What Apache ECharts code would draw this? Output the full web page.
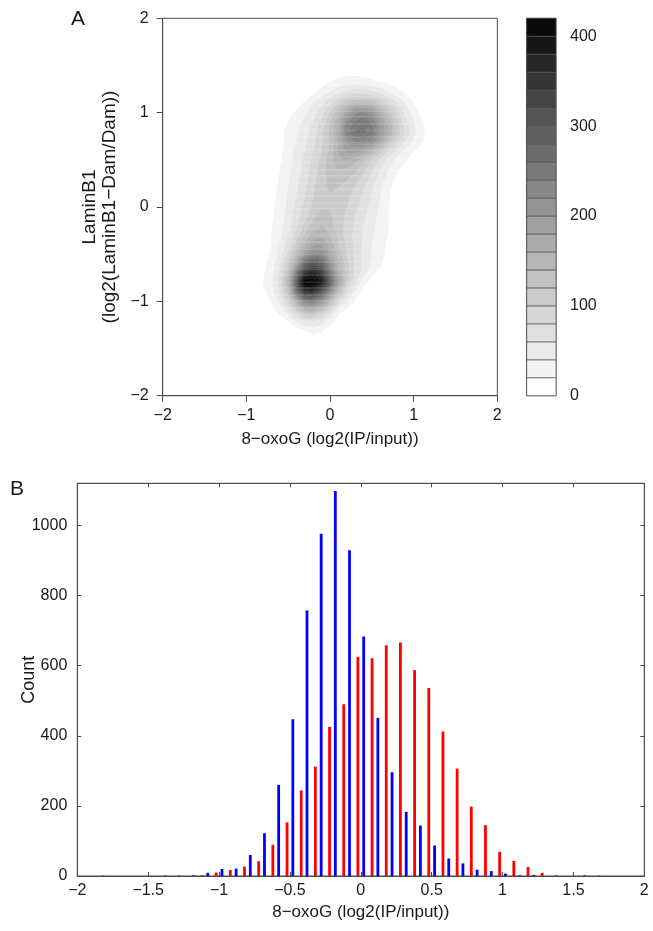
<!DOCTYPE html>
<html><head><meta charset="utf-8">
<script src="https://cdn.jsdelivr.net/npm/echarts@6/dist/echarts.min.js"></script>
<style>html,body{margin:0;padding:0;background:#fff}#c{width:653px;height:931px}</style>
</head><body><div id="c"></div>
<script>
const FONT = '"Liberation Sans", Arial, Helvetica, sans-serif';
const MINUS = '\u2212';

// ---------- Panel A: 2D density grid (estimated from the contour picture) ----------
const gridX = [-0.8,-0.7,-0.6,-0.5,-0.4,-0.3,-0.2,-0.1,0.0,0.1,0.2,0.3,0.4,0.5,0.6,0.7,0.8,0.9,1.0,1.1,1.2];
const gridY = [1.4,1.3,1.2,1.1,1.0,0.9,0.8,0.7,0.6,0.5,0.4,0.3,0.2,0.1,0.0,-0.1,-0.2,-0.3,-0.4,-0.5,-0.6,-0.7,-0.8,-0.9,-1.0,-1.1,-1.2,-1.3,-1.4];
const density = [
 [0,0,0,0,0,0,0,0,8,14,17,17,15,10,0,0,0,0,0,0,0],
 [0,0,0,0,0,0,0,15,24,32,38,40,38,33,26,20,10,0,0,0,0],
 [0,0,0,0,0,0,20,32,45,60,72,80,80,72,60,45,32,20,8,0,0],
 [0,0,0,0,10,25,40,55,75,100,125,140,145,135,110,85,60,40,18,5,0],
 [0,0,0,12,25,38,52,72,100,135,175,215,225,205,165,125,88,55,30,12,0],
 [0,0,5,22,32,45,62,85,115,160,215,245,252,235,195,150,105,70,42,22,5],
 [0,0,12,28,38,50,70,95,125,175,235,262,268,250,210,165,115,80,45,25,8],
 [0,0,12,28,40,55,75,95,120,160,200,225,230,215,180,130,90,60,38,22,8],
 [0,0,15,30,45,60,80,100,125,165,185,190,180,150,115,80,55,35,20,8,0],
 [0,5,18,32,48,65,85,105,130,155,160,150,130,100,75,52,35,22,10,0,0],
 [0,8,20,35,50,68,88,110,130,140,138,125,105,82,60,40,22,10,0,0,0],
 [0,10,22,38,55,72,92,112,125,128,122,110,92,72,52,32,15,5,0,0,0],
 [0,12,24,40,58,78,98,115,122,120,112,98,80,62,45,24,8,0,0,0,0],
 [0,14,26,42,60,80,100,115,118,115,105,92,75,58,40,22,8,0,0,0,0],
 [0,16,28,45,65,85,105,118,118,112,100,85,70,52,36,20,6,0,0,0,0],
 [0,17,30,48,70,92,115,128,122,110,95,80,64,48,34,20,6,0,0,0,0],
 [2,18,32,52,78,105,130,140,128,110,92,76,60,45,32,20,5,0,0,0,0],
 [5,20,36,60,90,122,150,155,138,115,92,74,58,42,30,18,0,0,0,0,0],
 [8,21,40,70,108,145,178,178,150,120,94,74,56,40,28,15,0,0,0,0,0],
 [12,24,48,85,135,190,225,215,172,130,98,75,55,38,26,12,0,0,0,0,0],
 [15,28,55,105,175,270,310,280,210,150,105,76,54,36,22,10,0,0,0,0,0],
 [18,32,65,130,250,345,380,340,250,170,112,76,52,25,12,0,0,0,0,0,0],
 [20,35,72,150,300,420,425,380,290,190,110,60,27,8,0,0,0,0,0,0,0],
 [15,32,62,125,260,340,350,300,210,135,72,34,12,0,0,0,0,0,0,0,0],
 [5,22,45,90,160,230,245,200,140,80,40,15,0,0,0,0,0,0,0,0,0],
 [0,10,28,55,100,140,150,120,80,28,10,0,0,0,0,0,0,0,0,0,0],
 [0,0,8,22,45,65,70,55,30,10,0,0,0,0,0,0,0,0,0,0,0],
 [0,0,0,0,12,22,28,22,8,0,0,0,0,0,0,0,0,0,0,0,0],
 [0,0,0,0,0,5,12,10,0,0,0,0,0,0,0,0,0,0,0,0,0]
];
const levelLows = [0,20,40,60,80,100,120,140,160,180,200,220,240,260,280,300,320,340,360,380,400];
const levelStep = 20;
const levelColors = ['#ffffff','#f3f3f3','#eaeaea','#e0e0e0','#d6d6d6','#cbcbcb','#c1c1c1','#b6b6b6','#ababab','#a0a0a0','#949494','#878787','#7a7a7a','#6c6c6c','#606060','#555555','#444444','#353535','#262626','#161616','#0a0a0a'];
const aTicks = [-2,-1,0,1,2];
const cbTicks = [0,100,200,300,400];

// ---------- Panel B: histogram ----------
const bins = [-1.8,-1.7,-1.6,-1.5,-1.4,-1.3,-1.2,-1.1,-1.0,-0.9,-0.8,-0.7,-0.6,-0.5,-0.4,-0.3,-0.2,-0.1,0,0.1,0.2,0.3,0.4,0.5,0.6,0.7,0.8,0.9,1.0,1.1,1.2,1.3,1.4,1.5,1.6,1.7];
const countsRed  = [1,0,0,0,0,0,0,2,10,17,27,42,89,153,244,312,425,490,625,621,658,666,587,536,412,306,198,145,69,43,26,9,2,0,3,1];
const countsBlue = [0,0,0,0,1,1,2,9,20,21,60,122,260,447,757,976,1098,929,683,451,296,183,144,87,50,36,18,14,7,2,3,0,0,0,0,0];
const bTicksY = [0,200,400,600,800,1000];

const fmt = v => String(v).replace('-', MINUS);
const SUB = 8; // sub-steps per grid square when rendering filled contours

// grid squares between neighbouring nodes (contourf-style rendering)
const squares = [];
for (let i = 0; i < gridY.length - 1; i++) {
  for (let j = 0; j < gridX.length - 1; j++) {
    const a = density[i][j], b = density[i][j + 1], c = density[i + 1][j], d = density[i + 1][j + 1];
    if (Math.max(a, b, c, d) >= levelStep) squares.push([gridX[j], gridY[i], gridX[j + 1], gridY[i + 1], a, b, c, d]);
  }
}

const axisCol = '#4a4a4a';
const txtCol = '#1a1a1a';

function renderSquare(params, api) {
  const x0 = api.value(0), y0 = api.value(1), x1 = api.value(2), y1 = api.value(3);
  const a = api.value(4), b = api.value(5), c = api.value(6), d = api.value(7);
  const children = [];
  for (let t = 0; t < SUB; t++) {
    let runStart = 0, runBand = -1;
    const w = (t + 0.5) / SUB;
    const flush = (sEnd) => {
      if (runBand >= 1) {
        const p0 = api.coord([x0 + (x1 - x0) * runStart / SUB, y0 + (y1 - y0) * t / SUB]);
        const p1 = api.coord([x0 + (x1 - x0) * sEnd / SUB, y0 + (y1 - y0) * (t + 1) / SUB]);
        children.push({type: 'rect', shape: {x: Math.min(p0[0], p1[0]), y: Math.min(p0[1], p1[1]),
          width: Math.abs(p1[0] - p0[0]) + 0.35, height: Math.abs(p1[1] - p0[1]) + 0.35},
          style: {fill: levelColors[runBand]}});
      }
    };
    for (let s = 0; s < SUB; s++) {
      const u = (s + 0.5) / SUB;
      const v = a * (1 - u) * (1 - w) + b * u * (1 - w) + c * (1 - u) * w + d * u * w;
      const band = Math.min(levelColors.length - 1, Math.floor(v / levelStep));
      if (band !== runBand) { flush(s); runStart = s; runBand = band; }
    }
    flush(SUB);
  }
  return {type: 'group', children: children};
}

const gridCommon = {show: true, borderColor: axisCol, borderWidth: 1, backgroundColor: 'transparent', containLabel: false, outerBoundsMode: 'none'};

const chart = echarts.init(document.getElementById('c'), null, {renderer: 'canvas'});
chart.setOption({
  animation: false,
  backgroundColor: '#fff',
  textStyle: {fontFamily: FONT},
  grid: [
    Object.assign({left: 162.7, top: 18.3, width: 334.6, height: 377.4}, gridCommon),
    Object.assign({left: 526.7, top: 18.3, width: 29.3, height: 377.4}, gridCommon),
    Object.assign({left: 77.3, top: 483.3, width: 567, height: 392.7}, gridCommon)
  ],
  xAxis: [
    {gridIndex: 0, type: 'value', min: -2, max: 2, interval: 1,
     axisLine: {onZero: false, lineStyle: {color: axisCol}},
     axisTick: {inside: false, length: 6, customValues: aTicks, lineStyle: {color: axisCol}},
     axisLabel: {color: txtCol, fontSize: 16, margin: 12, formatter: fmt, customValues: aTicks, fontFamily: FONT},
     splitLine: {show: false},
     name: '8\u2212oxoG (log2(IP/input))', nameLocation: 'middle', nameGap: 35, nameMoveOverlap: false,
     nameTextStyle: {color: txtCol, fontSize: 17, fontFamily: FONT}},
    {gridIndex: 1, type: 'value', min: 0, max: 1, show: false},
    {gridIndex: 2, type: 'value', min: -2, max: 2, interval: 0.5,
     axisLine: {onZero: false, lineStyle: {color: axisCol}},
     axisTick: {inside: true, length: 4, lineStyle: {color: axisCol}},
     axisLabel: {color: txtCol, fontSize: 16, margin: 7, formatter: fmt, fontFamily: FONT},
     splitLine: {show: false},
     name: '8\u2212oxoG (log2(IP/input))', nameLocation: 'middle', nameGap: 28, nameMoveOverlap: false,
     nameTextStyle: {color: txtCol, fontSize: 17, fontFamily: FONT}},
    {gridIndex: 2, type: 'value', position: 'top', min: -2, max: 2, interval: 0.5,
     axisLine: {onZero: false, lineStyle: {color: axisCol}},
     axisTick: {inside: true, length: 4, lineStyle: {color: axisCol}},
     axisLabel: {show: false}, splitLine: {show: false}}
  ],
  yAxis: [
    {gridIndex: 0, type: 'value', min: -2, max: 2, interval: 1,
     axisLine: {onZero: false, lineStyle: {color: axisCol}},
     axisTick: {inside: false, length: 6, customValues: aTicks, lineStyle: {color: axisCol}},
     axisLabel: {color: txtCol, fontSize: 16, margin: 14, formatter: fmt, customValues: aTicks, fontFamily: FONT},
     splitLine: {show: false},
     name: 'LaminB1\n(log2(LaminB1\u2212Dam/Dam))', nameLocation: 'middle', nameGap: 43, nameRotate: 90, nameMoveOverlap: false,
     nameTextStyle: {color: txtCol, fontSize: 19, lineHeight: 20, fontFamily: FONT}},
    {gridIndex: 1, type: 'value', position: 'right', min: 0, max: 420,
     axisLine: {show: true, lineStyle: {color: axisCol}},
     axisTick: {show: true, inside: false, length: 6, customValues: cbTicks, lineStyle: {color: axisCol}},
     axisLabel: {color: txtCol, fontSize: 16, margin: 14, customValues: cbTicks, fontFamily: FONT},
     splitLine: {show: false}},
    {gridIndex: 2, type: 'value', min: 0, max: 1120,
     axisLine: {onZero: false, lineStyle: {color: axisCol}},
     axisTick: {inside: true, length: 4, customValues: bTicksY, lineStyle: {color: axisCol}},
     axisLabel: {color: txtCol, fontSize: 16, margin: 10, customValues: bTicksY, formatter: v => String(v), fontFamily: FONT},
     splitLine: {show: false},
     name: 'Count', nameLocation: 'middle', nameGap: 39, nameRotate: 90, nameMoveOverlap: false,
     nameTextStyle: {color: txtCol, fontSize: 18, fontFamily: FONT}},
    {gridIndex: 2, type: 'value', position: 'right', min: 0, max: 1120,
     axisLine: {onZero: false, lineStyle: {color: axisCol}},
     axisTick: {inside: true, length: 4, customValues: bTicksY, lineStyle: {color: axisCol}},
     axisLabel: {show: false}, splitLine: {show: false}}
  ],
  series: [
    {type: 'custom', xAxisIndex: 0, yAxisIndex: 0, data: squares, clip: true, renderItem: renderSquare},
    {type: 'custom', xAxisIndex: 1, yAxisIndex: 1, data: levelLows.map((lo, i) => [lo, i]),
     renderItem: function (params, api) {
       const lo = api.value(0), i = api.value(1);
       const p0 = api.coord([0, lo + levelStep]);
       const p1 = api.coord([1, lo]);
       return {type: 'rect', shape: {x: p0[0], y: p0[1], width: p1[0] - p0[0], height: p1[1] - p0[1]},
               style: {fill: levelColors[i], stroke: '#555', lineWidth: 0.7}};
     }},
    {type: 'bar', name: 'red', xAxisIndex: 2, yAxisIndex: 2, barWidth: 2.8, barGap: '107%',
     itemStyle: {color: '#ff0000'}, data: bins.map((b, i) => [b, countsRed[i]])},
    {type: 'bar', name: 'blue', xAxisIndex: 2, yAxisIndex: 2, barWidth: 2.8, barGap: '107%',
     itemStyle: {color: '#0000ff'}, data: bins.map((b, i) => [b, countsBlue[i]])}
  ],
  graphic: [
    {type: 'text', left: 71, top: 9, style: {text: 'A', fontSize: 21, fill: txtCol, fontFamily: FONT}},
    {type: 'text', left: 10, top: 479, style: {text: 'B', fontSize: 21, fill: txtCol, fontFamily: FONT}}
  ]
});
</script></body></html>
